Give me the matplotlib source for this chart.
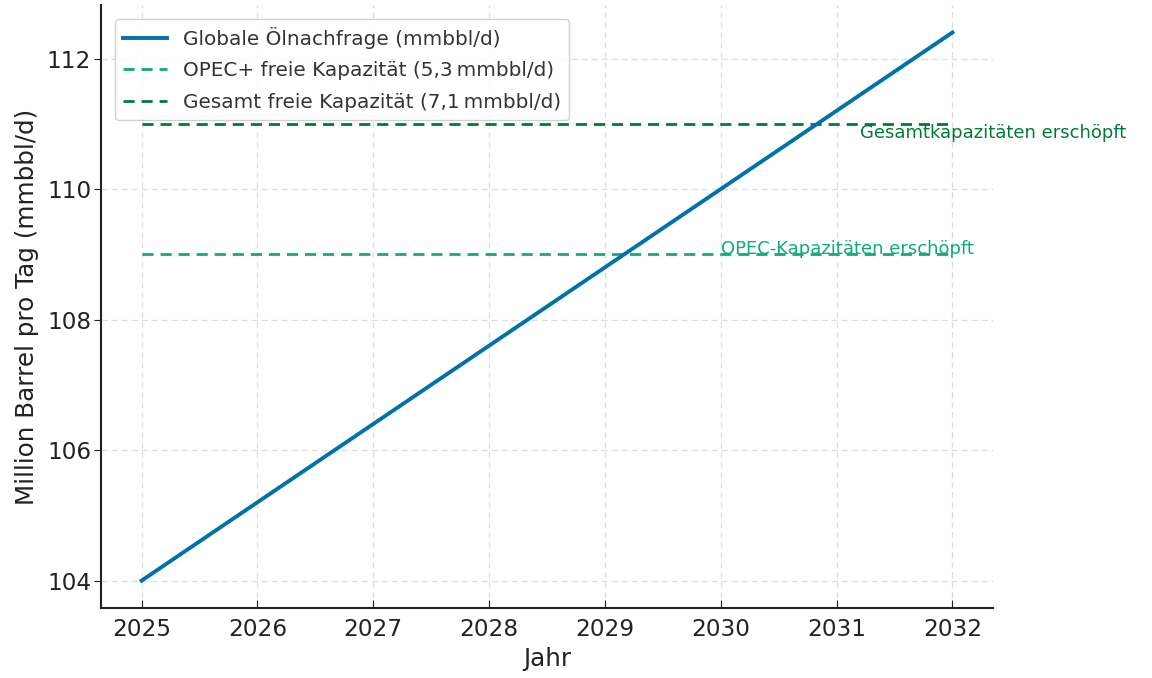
import matplotlib
matplotlib.use("Agg")
import matplotlib.pyplot as plt

# data
years = [2025, 2026, 2027, 2028, 2029, 2030, 2031, 2032]
demand = [104.0, 105.2, 106.4, 107.6, 108.8, 110.0, 111.2, 112.4]
opec_cap = 109.0
total_cap = 111.0

DEMAND_LABEL = "Globale Ölnachfrage (mmbbl/d)"
OPEC_LABEL = "OPEC+ freie Kapazität (5,3\u2009mmbbl/d)"
TOTAL_LABEL = "Gesamt freie Kapazität (7,1\u2009mmbbl/d)"

BLUE = "#0072a8"
GREEN = "#10aa7c"
DARK_GREEN = "#007a3a"

plt.rcParams["font.family"] = ["DejaVu Sans"]
plt.rcParams["text.color"] = "#222222"
plt.rcParams["axes.labelcolor"] = "#222222"
plt.rcParams["xtick.color"] = "#222222"
plt.rcParams["ytick.color"] = "#222222"

fig = plt.figure(figsize=(11.52, 6.78), dpi=100)
ax = fig.add_axes([0.0877, 0.1032, 0.7743, 0.8894])

ax.plot(years, demand, color=BLUE, lw=2.8, label=DEMAND_LABEL, zorder=3)
ax.plot([years[0], years[-1]], [opec_cap, opec_cap], color=GREEN, lw=2,
        ls=(0, (4, 2.5)), label=OPEC_LABEL, zorder=2)
ax.plot([years[0], years[-1]], [total_cap, total_cap], color=DARK_GREEN, lw=2,
        ls=(0, (4, 2.5)), label=TOTAL_LABEL, zorder=2)

ax.text(2030, opec_cap - 0.06, "OPEC-Kapazitäten erschöpft", color=GREEN,
        fontsize=13, va="bottom", ha="left")
ax.text(2031.2, total_cap, "Gesamtkapazitäten erschöpft", color=DARK_GREEN,
        fontsize=13, va="top", ha="left")

ax.set_xticks(years)
ax.set_yticks([104, 106, 108, 110, 112])
ax.tick_params(axis="both", labelsize=16.7)
ax.tick_params(axis="x", direction="in", length=6, pad=7.5)
ax.tick_params(axis="y", direction="out", length=5, pad=2)
ax.set_xlabel("Jahr", fontsize=17.7, labelpad=4)
ax.set_ylabel("Million Barrel pro Tag (mmbbl/d)", fontsize=17.7, labelpad=6)

ax.grid(True, ls=(0, (5, 3)), color="#dddddd", lw=0.9)
ax.set_axisbelow(True)
for side in ["top", "right"]:
    ax.spines[side].set_visible(False)
for side in ["left", "bottom"]:
    ax.spines[side].set_linewidth(1.5)
    ax.spines[side].set_color("#222222")

leg = ax.legend(loc="upper left", fontsize=14.4, frameon=True, framealpha=0.9,
                edgecolor="#cccccc", handlelength=2.2, labelspacing=0.62,
                borderaxespad=0.7)
for t in leg.get_texts():
    t.set_color("#333333")

fig.savefig("out.png", dpi=100)
